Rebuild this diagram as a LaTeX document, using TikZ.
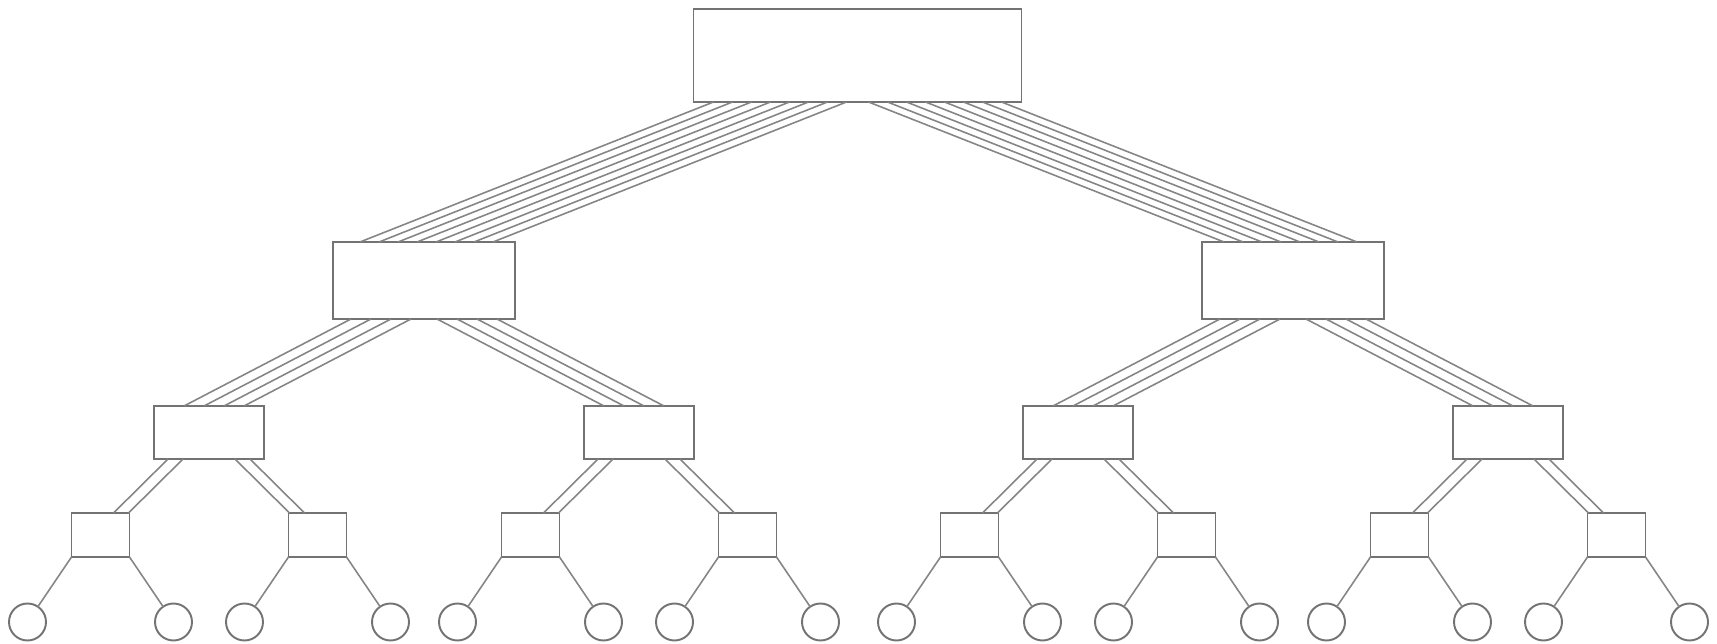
\documentclass[tikz,border=0pt]{standalone}
\newlength\pxu
\setlength\pxu{0.02cm}
\definecolor{boxc}{rgb}{0.45,0.45,0.45}
\definecolor{linec}{rgb}{0.52,0.52,0.52}
\tikzset{
  box/.style={draw=boxc, line width=1.1pt, inner sep=0pt, outer sep=0pt, fill=white},
  leafnode/.style={circle, draw=boxc, line width=1.1pt, minimum size=37\pxu, inner sep=0pt, outer sep=0pt, fill=white},
  wire/.style={draw=linec, line width=0.9pt}
}
\begin{document}
\begin{tikzpicture}[x=0.02cm, y=-0.02cm]
\useasboundingbox (0,0) rectangle (1717,644);
% root
\node[box, minimum width=328\pxu, minimum height=93\pxu] (root) at (857.5,55.5) {};
% level 1
\foreach \n/\x in {a/424, b/1293}
  \node[box, minimum width=182\pxu, minimum height=77\pxu] (\n) at (\x,280.5) {};
% level 2
\foreach \n/\x in {m1/209, m2/639, m3/1078, m4/1508}
  \node[box, minimum width=110\pxu, minimum height=53\pxu] (\n) at (\x,432.5) {};
% level 3
\foreach \n/\x in {s1/100.5, s2/317.5, s3/530.5, s4/747.5, s5/969.5, s6/1186.5, s7/1399.5, s8/1616.5}
  \node[box, minimum width=58\pxu, minimum height=44\pxu] (\n) at (\x,535) {};
% leaves
\foreach \n/\x in {f1/27.5, f2/173.5, f3/244.5, f4/390.5, f5/457.5, f6/603.5, f7/674.5, f8/820.5, f9/896.5, f10/1042.5, f11/1113.5, f12/1259.5, f13/1326.5, f14/1472.5, f15/1543.5, f16/1689.5}
  \node[leafnode] (\n) at (\x,622) {};
% root -> level 1 : 8 wires each
\foreach \i in {0,...,7} {
  \draw[wire] ([xshift={(20+19*\i)*\pxu}]root.south west) -- ([xshift={(27+19*\i)*\pxu}]a.north west);
  \draw[wire] ([xshift={-(20+19*\i)*\pxu}]root.south east) -- ([xshift={-(27+19*\i)*\pxu}]b.north east);
}
% level 1 -> level 2 : 4 wires each
\foreach \p/\l/\r in {a/m1/m2, b/m3/m4} {
  \foreach \i in {0,...,3} {
    \draw[wire] ([xshift={(18+20*\i)*\pxu}]\p.south west) -- ([xshift={(30+20*\i)*\pxu}]\l.north west);
    \draw[wire] ([xshift={-(18+20*\i)*\pxu}]\p.south east) -- ([xshift={-(30+20*\i)*\pxu}]\r.north east);
  }
}
% level 2 -> level 3 : 2 wires each
\foreach \p/\l/\r in {m1/s1/s2, m2/s3/s4, m3/s5/s6, m4/s7/s8} {
  \foreach \i in {0,1} {
    \draw[wire] ([xshift={(14+15*\i)*\pxu}]\p.south west) -- ([xshift={(42+15*\i)*\pxu}]\l.north west);
    \draw[wire] ([xshift={-(14+15*\i)*\pxu}]\p.south east) -- ([xshift={-(42+15*\i)*\pxu}]\r.north east);
  }
}
% level 3 -> leaves
\foreach \p/\l/\r in {s1/f1/f2, s2/f3/f4, s3/f5/f6, s4/f7/f8, s5/f9/f10, s6/f11/f12, s7/f13/f14, s8/f15/f16} {
  \draw[wire] (\p.south west) -- (\l);
  \draw[wire] (\p.south east) -- (\r);
}
\end{tikzpicture}
\end{document}
